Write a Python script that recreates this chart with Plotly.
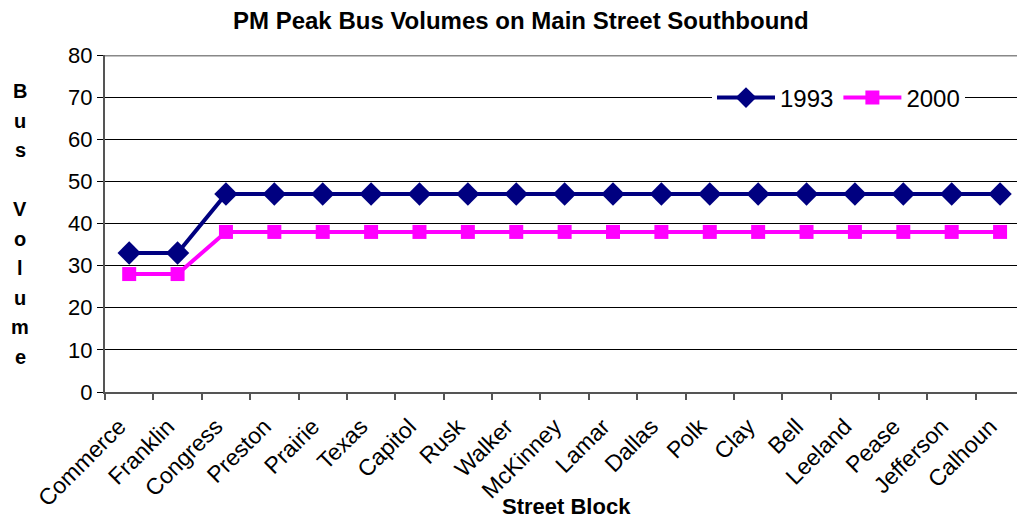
import plotly.graph_objects as go

streets = ["Commerce", "Franklin", "Congress", "Preston", "Prairie", "Texas", "Capitol",
           "Rusk", "Walker", "McKinney", "Lamar", "Dallas", "Polk", "Clay", "Bell",
           "Leeland", "Pease", "Jefferson", "Calhoun"]
vol_1993 = [33, 33, 47, 47, 47, 47, 47, 47, 47, 47, 47, 47, 47, 47, 47, 47, 47, 47, 47]
vol_2000 = [28, 28, 38, 38, 38, 38, 38, 38, 38, 38, 38, 38, 38, 38, 38, 38, 38, 38, 38]
y_ticks = [0, 10, 20, 30, 40, 50, 60, 70, 80]
y_title = "Bus Volume"

W, H = 1017, 523
L, R, T, B = 105, 0, 55, 131
PW, PH = W - L - R, H - T - B
FONT = "Liberation Sans, Arial, sans-serif"

fig = go.Figure()
fig.add_trace(go.Scatter(x=streets, y=vol_1993, name="1993", mode="lines+markers",
                         line=dict(color="#000080", width=4),
                         marker=dict(symbol="diamond", size=18, color="#000080")))
fig.add_trace(go.Scatter(x=streets, y=vol_2000, name="2000", mode="lines+markers",
                         line=dict(color="#FF00FF", width=4),
                         marker=dict(symbol="square", size=14, color="#FF00FF")))

def px_x(x):
    return (x - L) / PW

def px_y(y):
    return 1 - (y - T) / PH

anns = []
y0_px = 91
step = 29.5
for i, ch in enumerate(y_title):
    if ch == " ":
        continue
    anns.append(dict(text=f"<b>{ch}</b>", xref="paper", yref="paper",
                     x=px_x(20), y=px_y(y0_px + i * step),
                     xanchor="center", yanchor="middle", showarrow=False,
                     font=dict(family=FONT, size=20, color="black")))
anns.append(dict(text="<b>Street Block</b>", xref="paper", yref="paper",
                 x=px_x(566), y=px_y(507), xanchor="center", yanchor="middle",
                 showarrow=False, font=dict(family=FONT, size=22, color="black")))
anns.append(dict(text="<b>PM Peak Bus Volumes on Main Street Southbound</b>",
                 xref="paper", yref="paper", x=px_x(521), y=px_y(20),
                 xanchor="center", yanchor="middle", showarrow=False,
                 font=dict(family=FONT, size=24, color="black")))

fig.update_layout(
    width=W, height=H,
    margin=dict(l=L, r=R, t=T, b=B, autoexpand=False),
    paper_bgcolor="white", plot_bgcolor="white",
    font=dict(family=FONT, color="black", size=22),
    showlegend=True,
    legend=dict(orientation="h", x=px_x(712), xanchor="left", y=px_y(98), yanchor="middle",
                bgcolor="white", font=dict(size=24), itemwidth=58,
                tracegroupgap=0),
    annotations=anns,
    xaxis=dict(range=[-0.5, 18.35], showgrid=False, showline=True, linecolor="#555555",
               linewidth=2, ticks="outside", tickson="boundaries", ticklen=6,
               tickcolor="#555555", tickwidth=1.5, tickangle=-45,
               tickfont=dict(size=23), ticklabelstandoff=10, ticklabelshift=-10,
               automargin=False),
    yaxis=dict(range=[0, 80], tickvals=y_ticks, showgrid=True, gridcolor="black",
               gridwidth=1, showline=True, linecolor="#555555", linewidth=2,
               ticks="outside", ticklen=6, tickcolor="black", tickfont=dict(size=22),
               zeroline=False, automargin=False),
)
fig.add_shape(type="line", xref="paper", yref="y", x0=0, x1=1, y0=80, y1=80,
              line=dict(color="#888888", width=3))

fig.write_html("out.html", config={"displayModeBar": False},
               post_script="document.body.style.margin='0';document.body.style.overflow='hidden';")
